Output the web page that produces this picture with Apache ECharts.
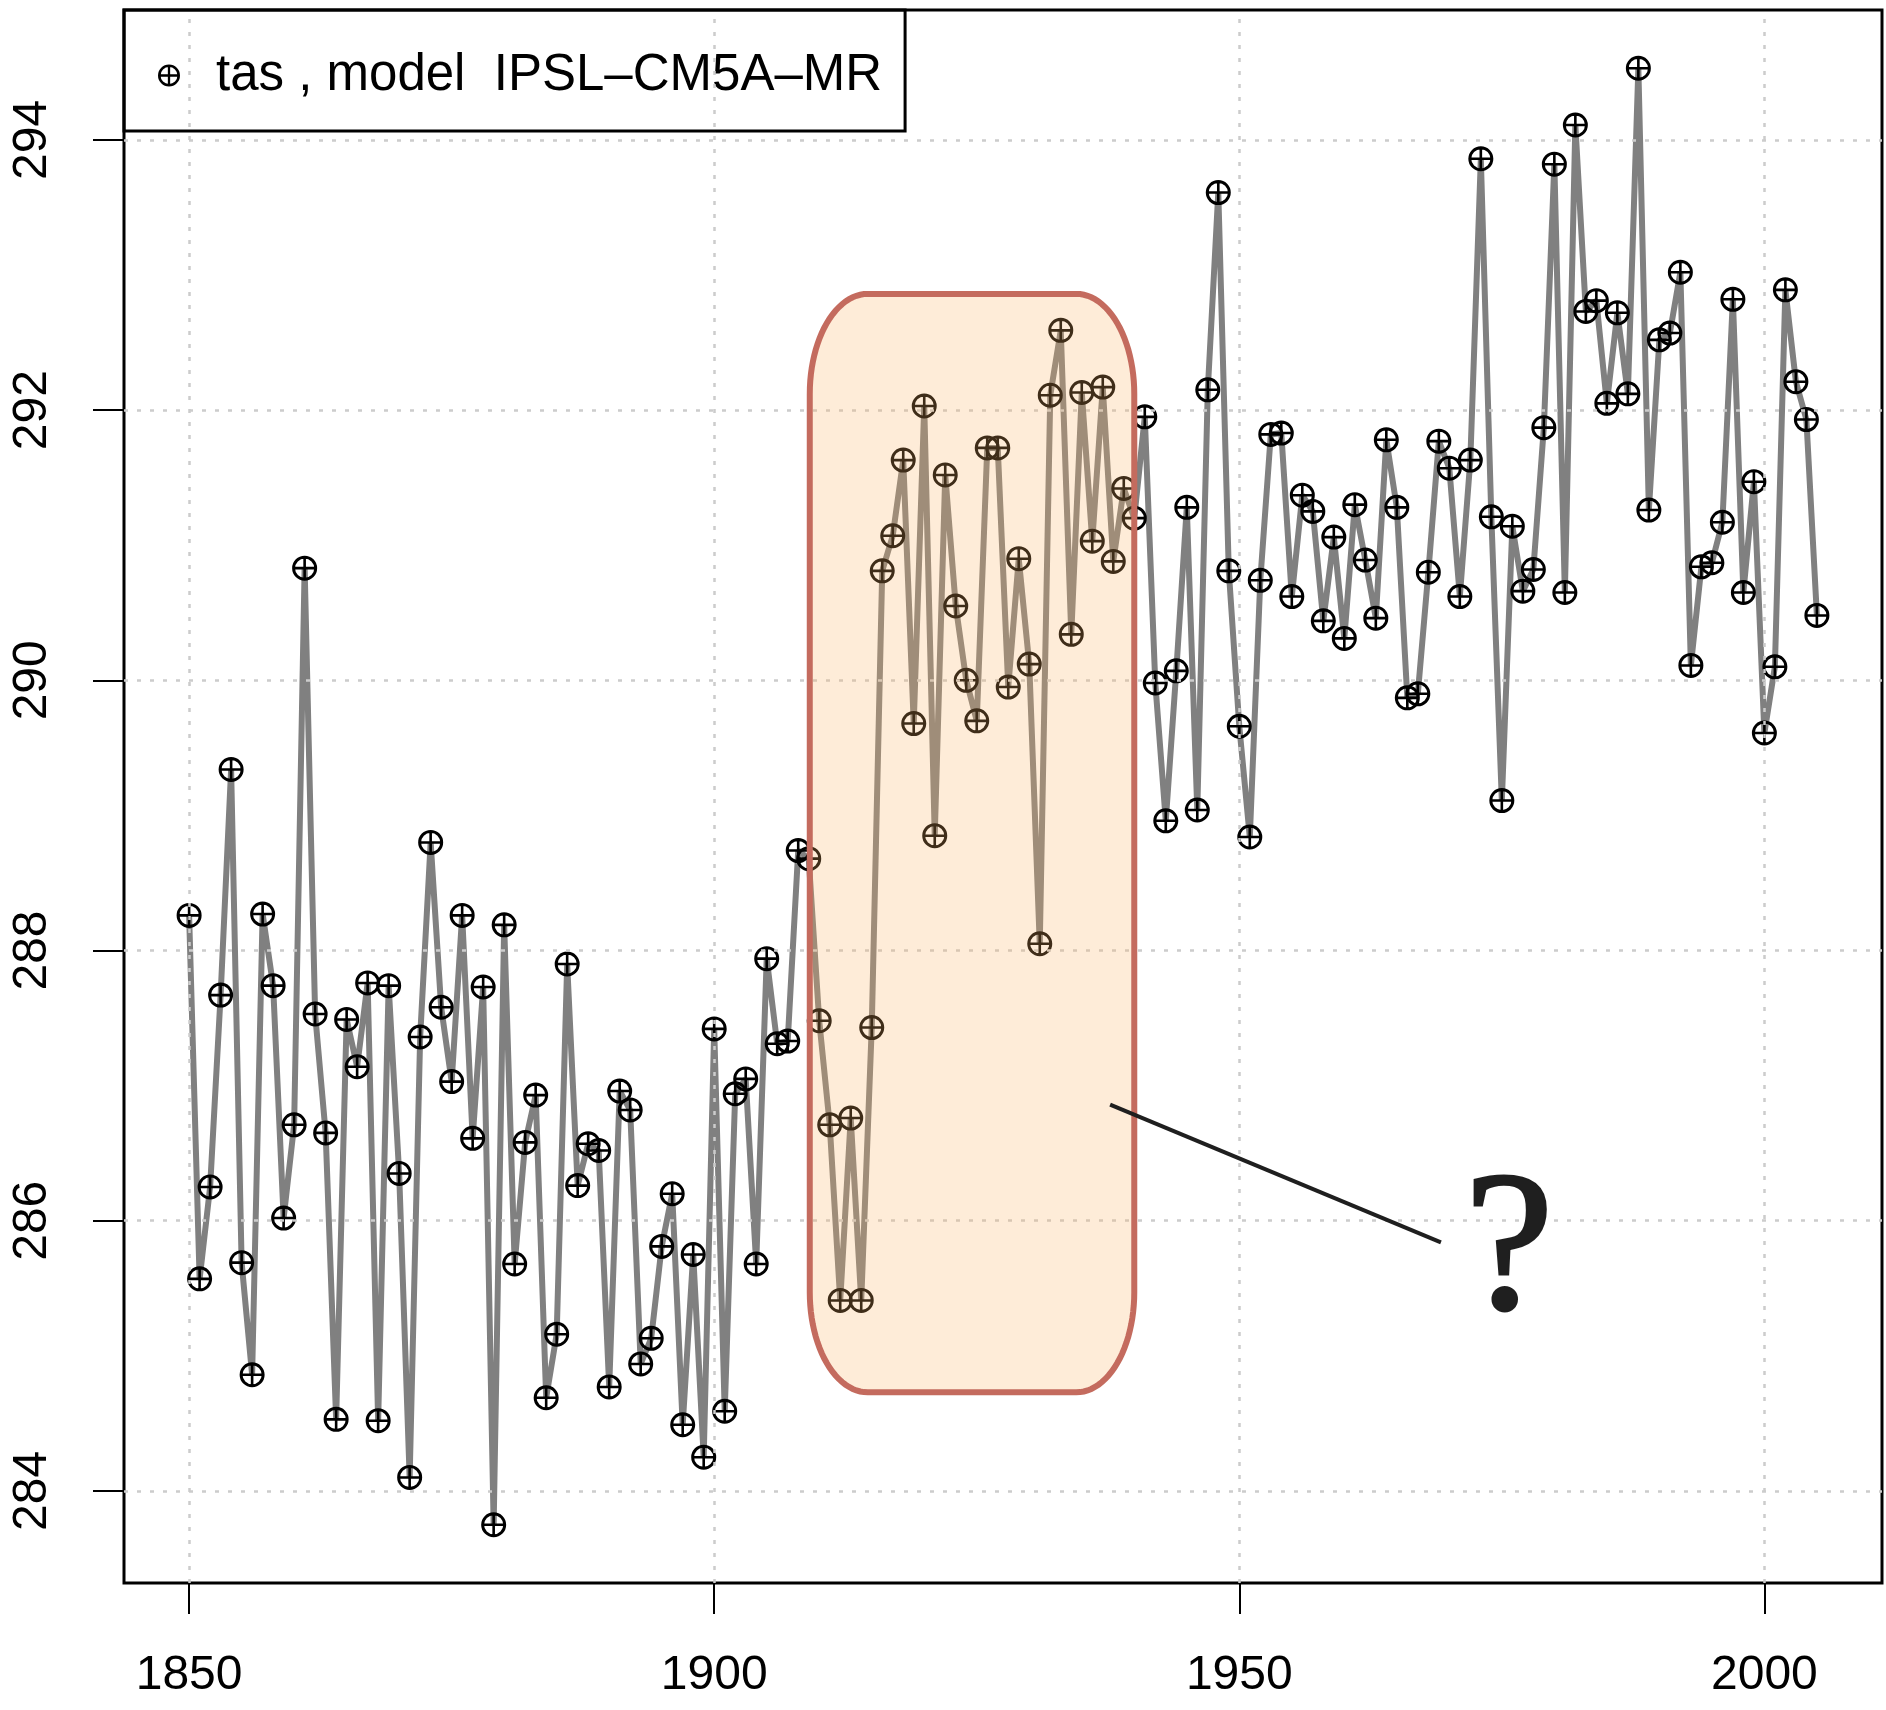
<!DOCTYPE html>
<html>
<head>
<meta charset="utf-8">
<script src="https://cdn.jsdelivr.net/npm/echarts@6/dist/echarts.min.js"></script>
<style>
html,body{margin:0;padding:0;background:#ffffff;}
#chart{width:1886px;height:1710px;}
</style>
</head>
<body>
<div id="chart"></div>
<script>
// ---------------- data ----------------
const firstYear = 1850;
const tas = [
  288.26, 285.57, 286.25, 287.67, 289.34, 285.69, 284.86, 288.27, 287.74, 286.02,
  286.71, 290.83, 287.53, 286.65, 284.53, 287.49, 287.14, 287.76, 284.52, 287.74,
  286.35, 284.10, 287.36, 288.80, 287.58, 287.03, 288.26, 286.61, 287.73, 283.75,
  288.19, 285.68, 286.58, 286.93, 284.69, 285.16, 287.90, 286.26, 286.57, 286.52,
  284.77, 286.96, 286.82, 284.94, 285.13, 285.81, 286.20, 284.49, 285.75, 284.25,
  287.42, 284.59, 286.94, 287.05, 285.68, 287.94, 287.31, 287.33, 288.74, 288.68,
  287.48, 286.71, 285.41, 286.76, 285.41, 287.43, 290.81, 291.07, 291.63, 289.68,
  292.03, 288.85, 291.52, 290.55, 290.00, 289.70, 291.72, 291.72, 289.95, 290.90,
  290.12, 288.05, 292.11, 292.59, 290.34, 292.13, 291.03, 292.17, 290.88, 291.42,
  291.20, 291.95, 289.98, 288.96, 290.07, 291.28, 289.04, 292.15, 293.61, 290.81,
  289.66, 288.84, 290.74, 291.82, 291.83, 290.62, 291.37, 291.25, 290.44, 291.06,
  290.31, 291.30, 290.89, 290.46, 291.78, 291.28, 289.87, 289.90, 290.80, 291.77,
  291.57, 290.62, 291.63, 293.86, 291.21, 289.11, 291.14, 290.66, 290.82, 291.87,
  293.82, 290.65, 294.11, 292.73, 292.81, 292.05, 292.72, 292.12, 294.53, 291.26,
  292.52, 292.57, 293.02, 290.11, 290.84, 290.87, 291.17, 292.82, 290.65, 291.47,
  289.61, 290.10, 292.89, 292.21, 291.93, 290.48
];
const years = tas.map((_, i) => firstYear + i);
const xTicks = [1850, 1900, 1950, 2000];
const yTicks = [284, 286, 288, 290, 292, 294];
const seriesName = 'tas , model  IPSL\u2013CM5A\u2013MR';

// annotation, in data coordinates
const highlightBox = { x0: 1909.1, x1: 1940.0, y0: 284.73, y1: 292.86 };
const calloutFrom = [1937.7, 286.86];
const calloutTo = [1969.2, 285.84];
const questionAt = [1975.7, 285.74];
const questionText = '?';

// ---------------- chart ----------------
const xPad = (years[years.length - 1] - years[0]) * 0.04;
const yLo = Math.min(...tas), yHi = Math.max(...tas);
const yPad = (yHi - yLo) * 0.04;

const markerPath = 'path://M0,-12.5A12.5,12.5,0,1,1,0,12.5A12.5,12.5,0,1,1,0,-12.5Z' +
  'M0,-9.6A9.6,9.6,0,1,0,0,9.6A9.6,9.6,0,1,0,0,-9.6Z' +
  'M-10.5,-1.3L10.5,-1.3L10.5,1.3L-10.5,1.3Z' +
  'M-1.3,-10.5L1.3,-10.5L1.3,10.5L-1.3,10.5Z';

const chart = echarts.init(document.getElementById('chart'), null, { renderer: 'canvas' });

const font = 'Liberation Sans';
chart.setOption({
  animation: false,
  backgroundColor: '#ffffff',
  grid: {
    left: 124, right: 4, top: 10, bottom: 127,
    show: true, borderColor: '#000', borderWidth: 3, backgroundColor: 'transparent',
    outerBoundsMode: 'none'
  },
  legend: {
    left: 124, top: 10,
    padding: [40, 23, 30, 34],
    itemWidth: 22, itemHeight: 22, itemGap: 0,
    borderColor: '#000', borderWidth: 3, backgroundColor: 'transparent',
    selectedMode: false,
    textStyle: { fontSize: 51, fontFamily: font, color: '#000', padding: [0, 0, 0, 31], lineHeight: 50 },
    data: [{ name: seriesName, icon: markerPath, itemStyle: { color: '#000' } }]
  },
  xAxis: {
    type: 'value', min: years[0] - xPad, max: years[years.length - 1] + xPad,
    axisLine: { show: false },
    splitLine: { show: false },
    axisTick: { show: true, customValues: xTicks, length: 31, lineStyle: { color: '#000', width: 2 } },
    axisLabel: { customValues: xTicks, margin: 69, fontSize: 48, fontFamily: font, color: '#000',
      formatter: v => String(v) }
  },
  yAxis: {
    type: 'value', min: yLo - yPad, max: yHi + yPad,
    axisLine: { show: false },
    splitLine: { show: false },
    axisTick: { show: true, customValues: yTicks, length: 31, lineStyle: { color: '#000', width: 2 } },
    axisLabel: { customValues: yTicks, rotate: 90, margin: 67, fontSize: 48, fontFamily: font, color: '#000',
      formatter: v => String(v) }
  },
  series: [
    {
      type: 'line', data: [], silent: true, z: 1,
      markLine: {
        silent: true, symbol: ['none', 'none'], animation: false,
        label: { show: false },
        lineStyle: { color: '#cccccc', width: 2.5, type: [4, 9] },
        emphasis: { disabled: true },
        data: xTicks.map(v => ({ xAxis: v })).concat(yTicks.map(v => ({ yAxis: v })))
      }
    },
    {
      name: seriesName, type: 'line', z: 3,
      data: years.map((y, i) => [y, tas[i]]),
      symbol: markerPath, symbolSize: 25, showAllSymbol: true,
      itemStyle: { color: '#000', borderWidth: 0 },
      lineStyle: { color: '#808080', width: 6 },
      emphasis: { disabled: true },
      silent: true
    }
  ]
});

// annotation built from data coordinates through the chart's scales
const px = (x, y) => chart.convertToPixel({ gridIndex: 0 }, [x, y]);
const tl = px(highlightBox.x0, highlightBox.y1);
const br = px(highlightBox.x1, highlightBox.y0);
const L = tl[0], T = tl[1], R = br[0], B = br[1];
const rx = 58, ry = 100, steps = 24;
const boxPoints = [];
function corner(cx, cy, a0, a1) {
  for (let s = 0; s <= steps; s++) {
    const a = a0 + (a1 - a0) * s / steps;
    boxPoints.push([cx + rx * Math.cos(a), cy + ry * Math.sin(a)]);
  }
}
corner(R - rx, T + ry, -Math.PI / 2, 0);
corner(R - rx, B - ry, 0, Math.PI / 2);
corner(L + rx, B - ry, Math.PI / 2, Math.PI);
corner(L + rx, T + ry, Math.PI, Math.PI * 1.5);

const cf = px(calloutFrom[0], calloutFrom[1]);
const ct = px(calloutTo[0], calloutTo[1]);
const qa = px(questionAt[0], questionAt[1]);

chart.setOption({
  graphic: [
    { type: 'polygon', z: 100, silent: true, shape: { points: boxPoints },
      style: { fill: 'rgba(250,180,100,0.25)', stroke: '#c46b5e', lineWidth: 6 } },
    { type: 'line', z: 101, silent: true,
      shape: { x1: cf[0], y1: cf[1], x2: ct[0], y2: ct[1] },
      style: { stroke: '#1f1f1f', lineWidth: 4 } },
    { type: 'text', z: 101, silent: true, x: qa[0], y: qa[1],
      style: { text: questionText, fontSize: 200, fontFamily: 'Liberation Serif', fill: '#1f1f1f',
        stroke: '#1f1f1f', lineWidth: 3,
        align: 'center', verticalAlign: 'middle', textAlign: 'center', textVerticalAlign: 'middle' } }
  ]
});
</script>
</body>
</html>
